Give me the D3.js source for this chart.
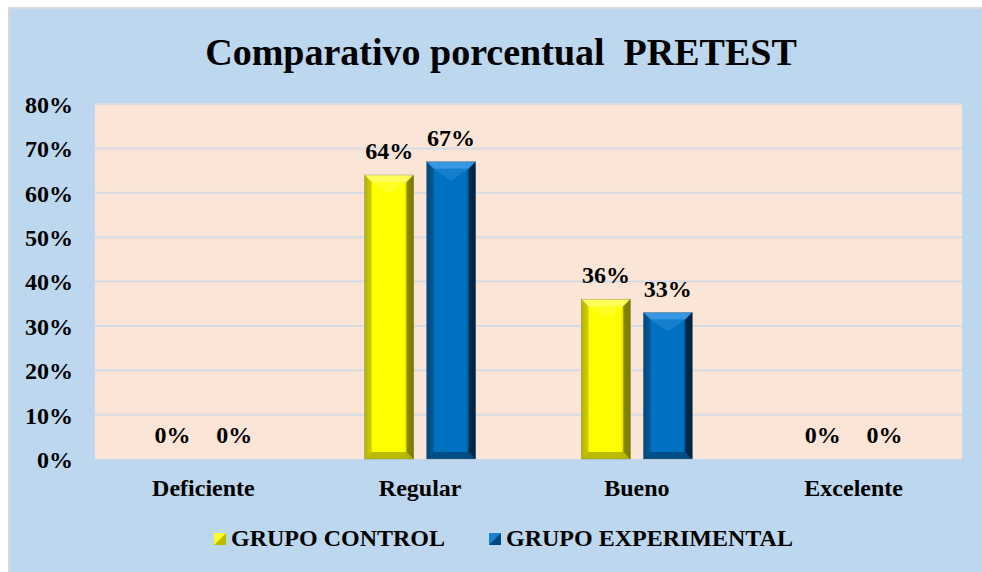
<!DOCTYPE html>
<html><head><meta charset="utf-8">
<script src="https://cdn.jsdelivr.net/npm/d3@7"></script>
<style>html,body{margin:0;padding:0;background:#fff;}svg{display:block;}</style>
</head><body>
<svg id="c" width="982" height="572"></svg>
<script>
const categories = ["Deficiente","Regular","Bueno","Excelente"];
const seriesNames = ["GRUPO CONTROL","GRUPO EXPERIMENTAL"];
const grupoControl = [0, 0.64, 0.36, 0];
const grupoExperimental = [0, 0.67, 0.33, 0];
const yTicks = [0,0.1,0.2,0.3,0.4,0.5,0.6,0.7,0.8];
const titleText = "Comparativo porcentual  PRETEST";

(function(){
const values = [grupoControl, grupoExperimental];
const svg = d3.select("#c");
const font = "'Liberation Serif','Times New Roman',serif";

const defs = svg.append("defs");
const palettes = [
  {id:"y", dark:"#7a7a00", mid:"#ffff00", light:"#ffff66", edge:"#b3b300"},
  {id:"b", dark:"#00233f", mid:"#0070c0", light:"#3d9be6", edge:"#004a80"}
];
palettes.forEach(p=>{
  const g = defs.append("linearGradient").attr("id","h"+p.id).attr("x1","0").attr("x2","1").attr("y1","0").attr("y2","0");
  g.append("stop").attr("offset","0").attr("stop-color",p.edge);
  g.append("stop").attr("offset","0.12").attr("stop-color",p.mid);
  g.append("stop").attr("offset","0.8").attr("stop-color",p.mid);
  g.append("stop").attr("offset","1").attr("stop-color",p.dark);
});

svg.append("rect").attr("x",9).attr("y",8).attr("width",980).attr("height",570)
  .attr("fill","#bdd7ee").attr("stroke","#d9d9d9").attr("stroke-width",2);

const pl=95,pr=962,pt=104,pb=459;
svg.append("rect").attr("x",pl).attr("y",pt).attr("width",pr-pl).attr("height",pb-pt)
  .attr("fill","#fbe5d6");

const y = d3.scaleLinear().domain([0,0.8]).range([pb,pt]);
const x0 = d3.scaleBand().domain(categories).range([pl,pr]).paddingInner(0.488).paddingOuter(0.244);
const x1 = d3.scaleBand().domain(seriesNames).range([0,x0.bandwidth()]).paddingInner(0.21);

svg.append("g").selectAll("line").data(yTicks.filter(t=>t>0)).join("line")
  .attr("x1",pl).attr("x2",pr).attr("y1",d=>y(d)).attr("y2",d=>y(d))
  .attr("stroke","#d6dce5").attr("stroke-width",2);

const yAxis = d3.axisLeft(y).tickValues(yTicks).tickFormat(d3.format(".0%")).tickSize(0).tickPadding(0);
const ya = svg.append("g").attr("transform",`translate(73,0)`).call(yAxis);
ya.select(".domain").remove();
ya.selectAll("text").attr("font-family",font).attr("font-weight","bold").attr("font-size",24).attr("fill","#000").attr("dy","0.35em");

const xAxis = d3.axisBottom(x0).tickSize(0).tickPadding(0);
const xa = svg.append("g").attr("transform",`translate(0,${pb+20})`).call(xAxis);
xa.select(".domain").remove();
xa.selectAll("text").attr("font-family",font).attr("font-weight","bold").attr("font-size",24).attr("fill","#000");

const bev = 7;
seriesNames.forEach((s,si)=>{
  const p = palettes[si];
  const g = svg.append("g");
  categories.forEach((c,ci)=>{
    const v = values[si][ci];
    const bx = x0(c)+x1(s), bw = x1.bandwidth();
    const by = y(v), bh = y(0)-y(v);
    if (bh>0){
      g.append("rect").attr("x",bx).attr("y",by).attr("width",bw).attr("height",bh).attr("fill",`url(#h${p.id})`);
      const b = Math.min(bev, bh/2);
      g.append("path").attr("d",`M${bx},${by}L${bx+bw},${by}L${bx+bw-b},${by+b}L${bx+b},${by+b}Z`).attr("fill",p.light).attr("opacity",0.9);
      g.append("path").attr("d",`M${bx+b},${by+b}L${bx+bw-b},${by+b}L${bx+bw/2},${by+b+12}Z`).attr("fill",p.light).attr("opacity",0.35);
      g.append("path").attr("d",`M${bx},${by+bh}L${bx+bw},${by+bh}L${bx+bw-b},${by+bh-b}L${bx+b},${by+bh-b}Z`).attr("fill",p.edge).attr("opacity",0.9);
      g.append("path").attr("d",`M${bx+bw},${by}L${bx+bw},${by+bh}L${bx+bw-b},${by+bh-b}L${bx+bw-b},${by+b}Z`).attr("fill",p.dark).attr("opacity",0.85);
      g.append("path").attr("d",`M${bx},${by}L${bx},${by+bh}L${bx+b},${by+bh-b}L${bx+b},${by+b}Z`).attr("fill",p.edge).attr("opacity",0.7);
      g.append("rect").attr("x",bx).attr("y",by).attr("width",bw).attr("height",bh).attr("fill","none").attr("stroke","#7f7f7f").attr("stroke-width",0.6).attr("opacity",0.6);
    }
    g.append("text").attr("x",bx+bw/2).attr("y",by-16)
      .attr("text-anchor","middle").attr("font-family",font).attr("font-weight","bold").attr("font-size",24)
      .text(d3.format(".0%")(v));
  });
});

svg.append("text").attr("x",501).attr("y",65).attr("text-anchor","middle")
  .attr("font-family",font).attr("font-weight","bold").attr("font-size",38)
  .style("white-space","pre").text(titleText);

const legX = [214, 489];
seriesNames.forEach((s,si)=>{
  const p = palettes[si];
  const lx = legX[si], ly = 533, sz = 12;
  svg.append("rect").attr("x",lx).attr("y",ly).attr("width",sz).attr("height",sz).attr("fill",p.mid);
  svg.append("path").attr("d",`M${lx},${ly+sz}L${lx+sz},${ly+sz}L${lx+sz},${ly}Z`).attr("fill",p.dark).attr("opacity",0.5);
  svg.append("path").attr("d",`M${lx},${ly}L${lx+sz},${ly}L${lx},${ly+sz}Z`).attr("fill",p.light).attr("opacity",0.4);
  svg.append("text").attr("x",lx+17).attr("y",ly+13).attr("font-family",font).attr("font-weight","bold").attr("font-size",24).text(s);
});
})();
</script>
</body></html>
